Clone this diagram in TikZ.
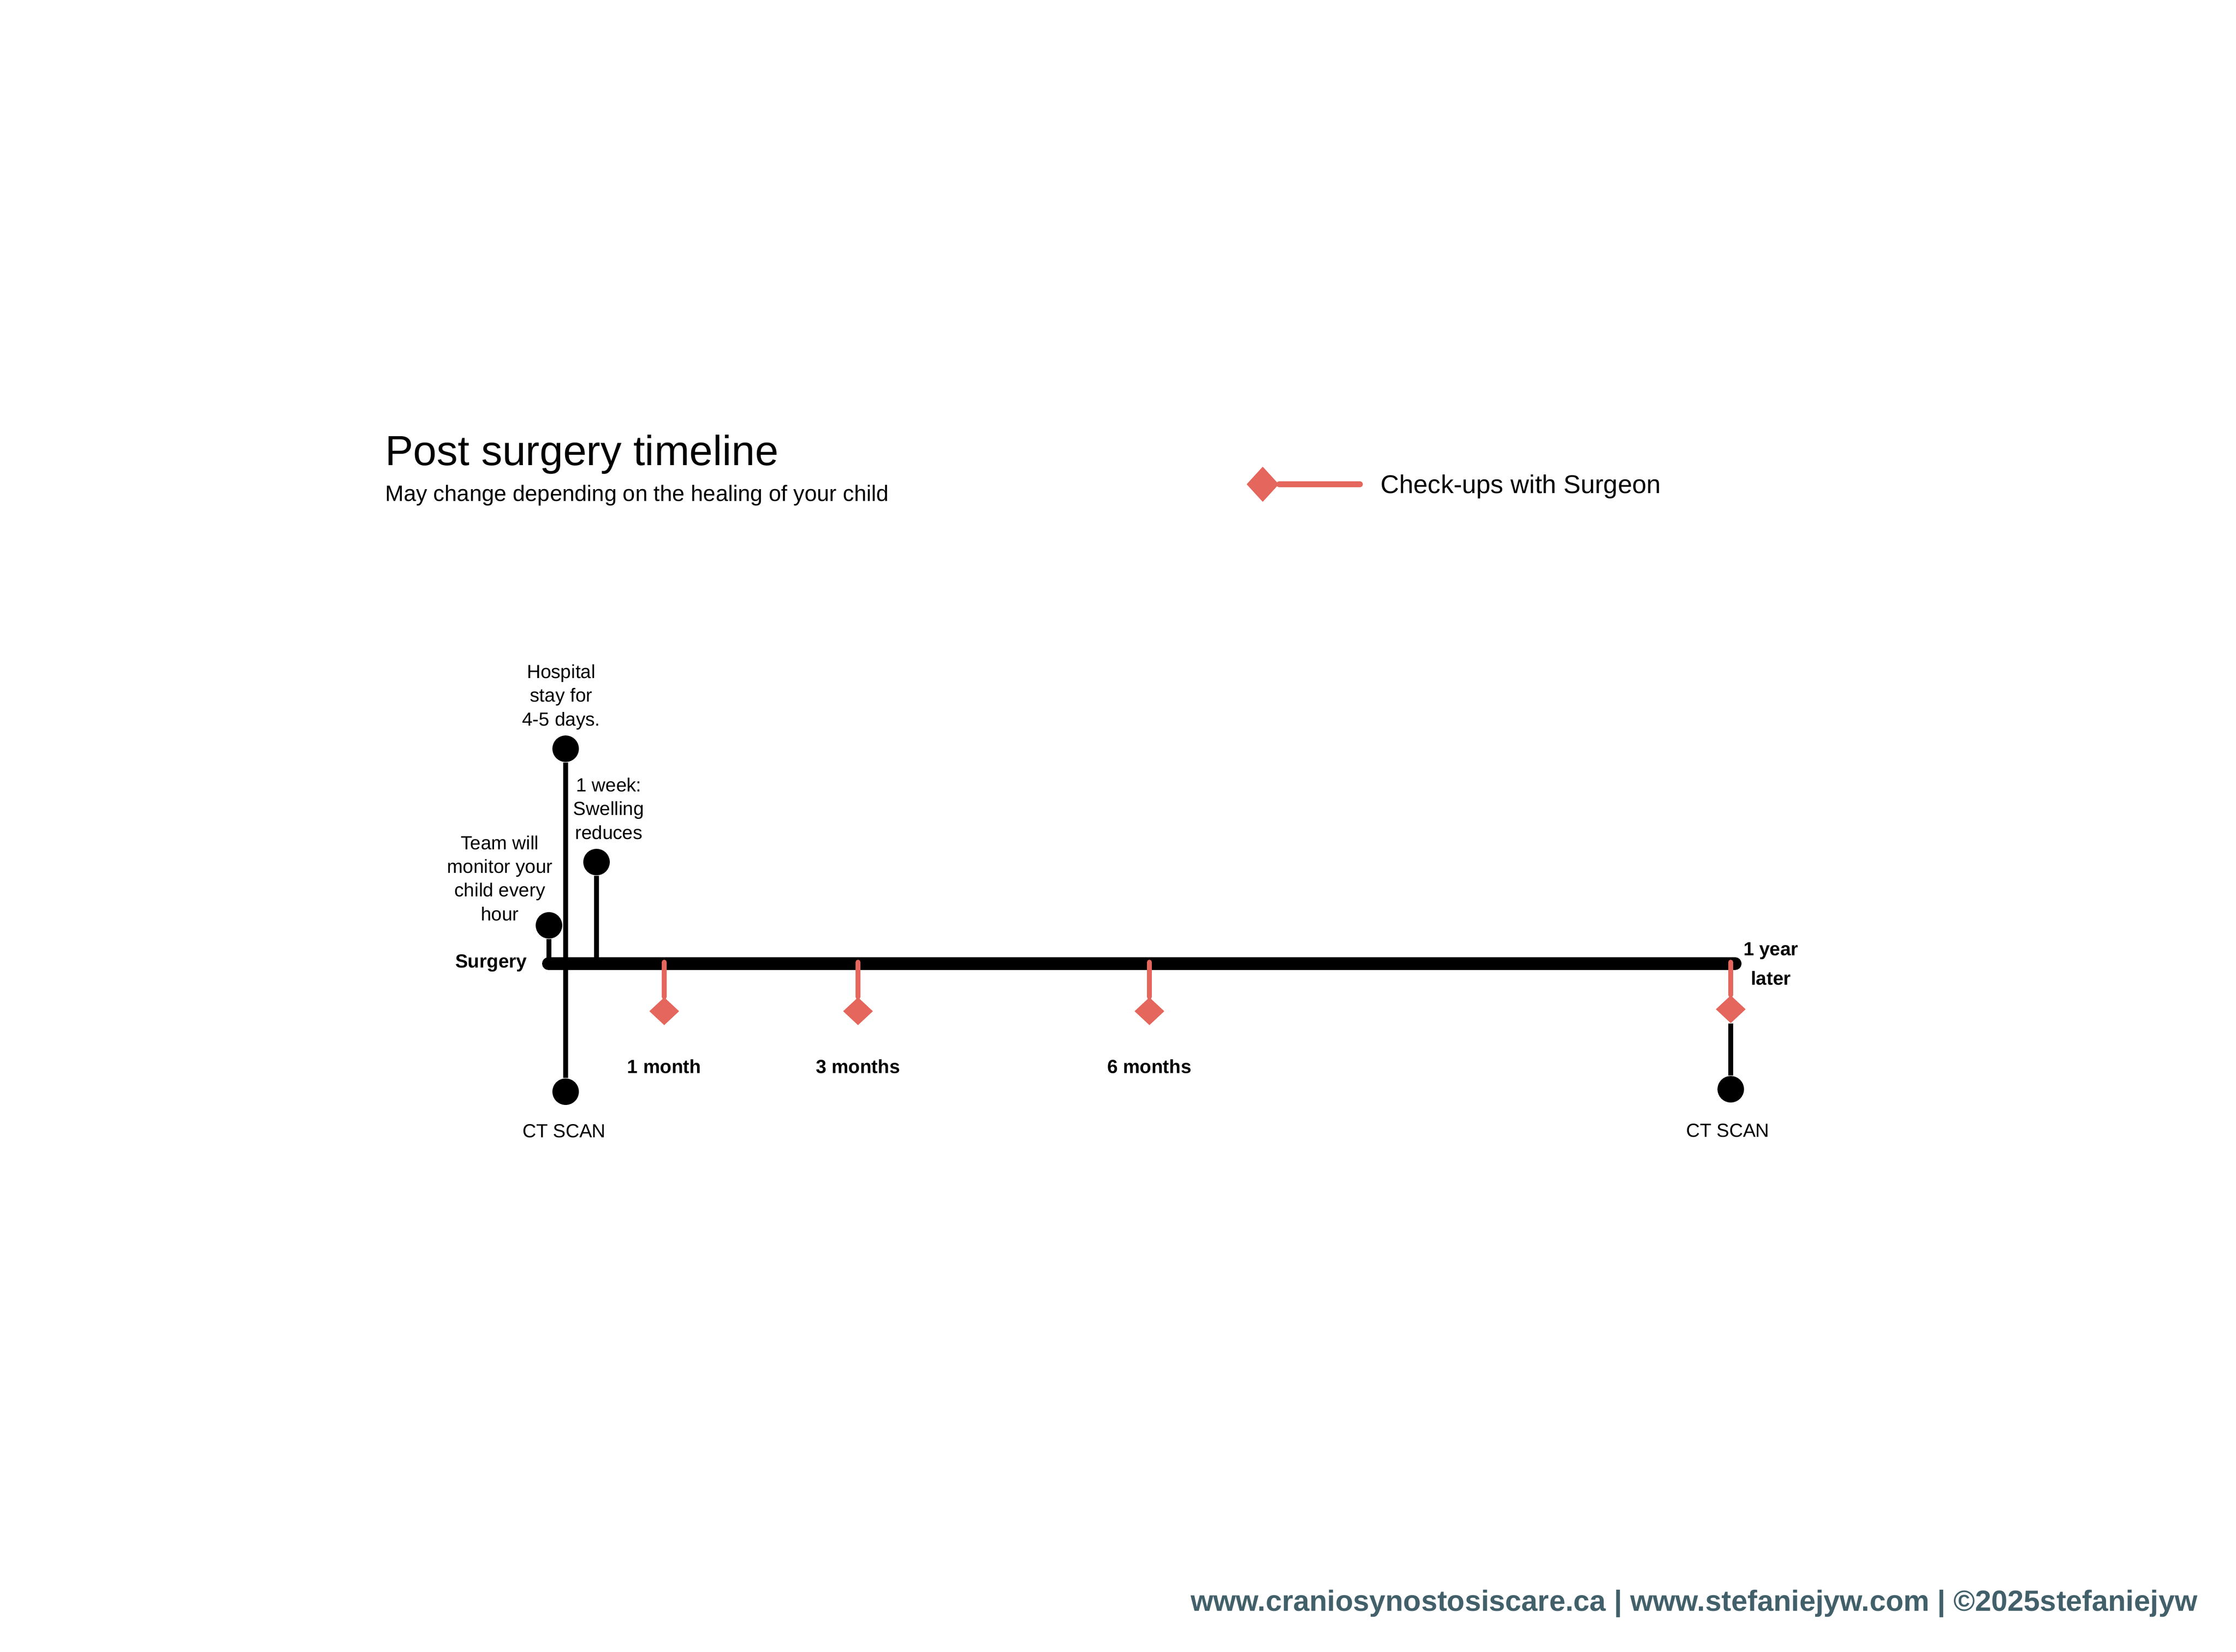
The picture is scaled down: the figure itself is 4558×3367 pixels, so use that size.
\documentclass[tikz,border=0pt]{standalone}
\usepackage{fontspec}
\setmainfont{Liberation Sans}
\usetikzlibrary{shapes.geometric}
\definecolor{checkred}{HTML}{E4665C}
\definecolor{footgrey}{HTML}{42606A}

\begin{document}
\begin{tikzpicture}[x=0.01cm,y=-0.01cm]
    \useasboundingbox (0,0) rectangle (4558,3367);

        % heading and legend
        \begin{scope}[every node/.style={anchor=base west,inner sep=0pt}]
            \node[font=\fontsize{24.4}{29}\selectfont] (title) at (785,948) {Post surgery timeline};
            \node[font=\fontsize{12.9}{15}\selectfont] (sub) at (785,1021) {May change depending on the healing of your child};
            \node[font=\fontsize{14.9}{18}\selectfont] (keytext) at (2814,1005) {Check-ups with Surgeon};
        \end{scope}
        \node[diamond,fill=checkred,minimum width=0.66cm,minimum height=0.72cm,inner sep=0pt] (key) at (2574,987) {};
        \coordinate (keyend) at (2772,987);
        \path (key) edge[draw=checkred,line width=3.4pt,line cap=round] (keyend);

        % points on the line
        \coordinate (start) at (1118,1964);
        \coordinate (end) at (3537,1964);
        \coordinate (t0) at (1119,1964);
        \coordinate (w0) at (1216,1964);
        \coordinate (r1) at (1354,1961);
        \coordinate (r3) at (1749,1961);
        \coordinate (r6) at (2343,1961);
        \coordinate (r12) at (3528,1961);

        \path (start) edge[line width=7.4pt,line cap=round] (end);

        \begin{scope}[every node/.style={circle,fill=black,minimum size=0.54cm,inner sep=0pt}]
            \node (team) at (1119,1886) {};
            \node (hosp) at (1153,1526) {};
            \node (week) at (1216,1757) {};
            \node (ct1) at (1153,2225) {};
            \node (ct2) at (3528,2220) {};
        \end{scope}

        \begin{scope}[every node/.style={diamond,fill=checkred,minimum width=0.61cm,minimum height=0.57cm,inner sep=0pt}]
            \node (m1) at (1354,2061) {};
            \node (m3) at (1749,2061) {};
            \node (m6) at (2343,2061) {};
            \node (y1) at (3528,2057) {};
        \end{scope}

        \begin{scope}[every edge/.style={draw=black,line width=2.85pt}]
            \path (team) edge (t0);
            \path (hosp) edge (ct1);
            \path (week) edge (w0);
            \path (y1) edge (ct2);
        \end{scope}

        \begin{scope}[every edge/.style={draw=checkred,line width=2.85pt,line cap=round}]
            \path (r1) edge (m1);
            \path (r3) edge (m3);
            \path (r6) edge (m6);
            \path (r12) edge (y1);
        \end{scope}

        % labels (base = last line)
        \begin{scope}[every node/.style={anchor=base,inner sep=0pt,align=center,font=\fontsize{11}{13.7}\selectfont}]
            \node (teamtext) at (1019,1876) {Team will\\monitor your\\child every\\hour};
            \node (hosptext) at (1144,1479) {Hospital\\stay for\\4-5 days.};
            \node (weektext) at (1241,1710) {1 week:\\Swelling\\reduces};
            \node (cttext1) at (1150,2318) {CT SCAN};
            \node (cttext2) at (3522,2317) {CT SCAN};
        \end{scope}

        \begin{scope}[every node/.style={anchor=base,inner sep=0pt,align=center,font=\fontsize{11}{16.8}\selectfont\bfseries}]
            \node[anchor=base east] (surgery) at (1075,1972) {Surgery};
            \node (m1text) at (1354,2187) {1 month};
            \node (m3text) at (1749,2187) {3 months};
            \node (m6text) at (2343,2187) {6 months};
            \node (y1text) at (3610,2007) {1 year\\later};
        \end{scope}

        \node[anchor=base east,inner sep=0pt,text=footgrey,font=\fontsize{16.9}{20}\selectfont\bfseries] (footer) at (4480,3283) {www.craniosynostosiscare.ca | www.stefaniejyw.com | \textcopyright2025stefaniejyw};

    \end{tikzpicture}
\end{document}
